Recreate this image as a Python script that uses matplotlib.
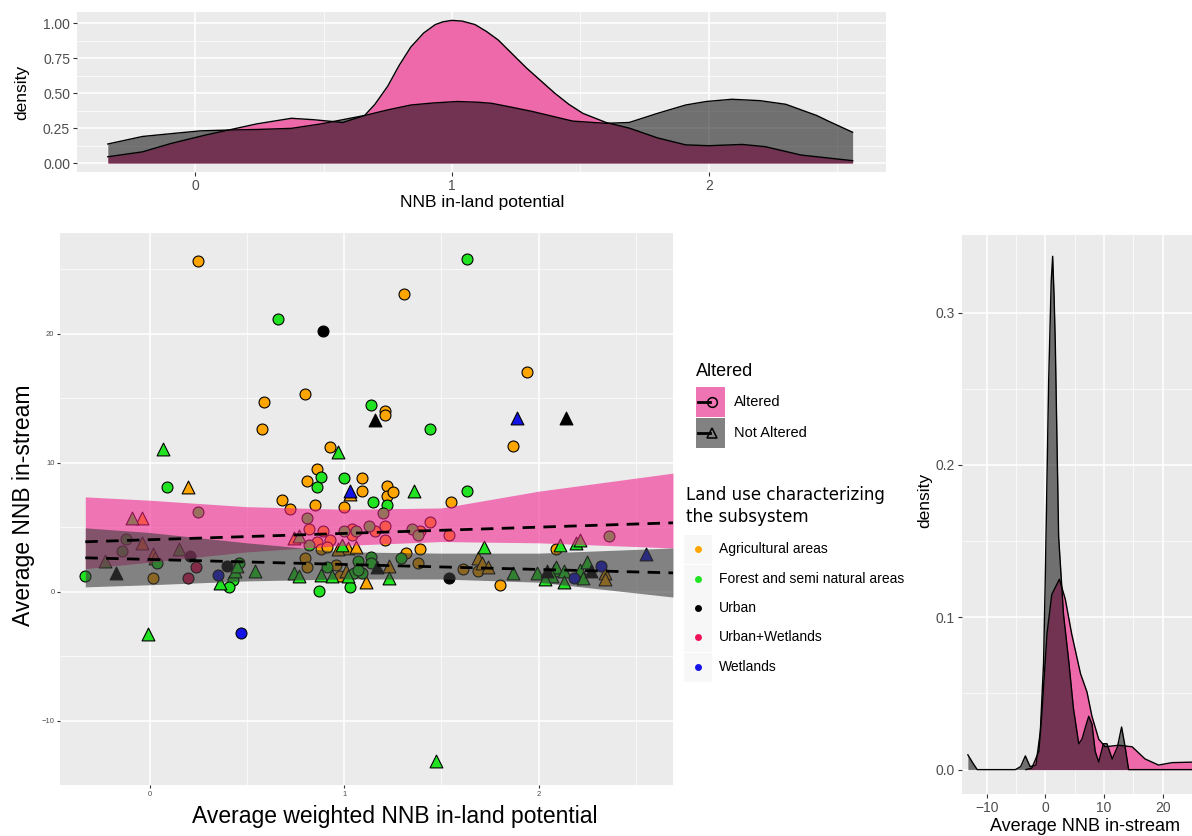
import numpy as np
import matplotlib
matplotlib.use('Agg')
import matplotlib.pyplot as plt
from matplotlib.patches import Rectangle

plt.rcParams['font.family'] = ['Liberation Sans', 'DejaVu Sans']

# ---------------- data ----------------
# land use codes: A agricultural, F forest, U urban, UW urban+wetlands, W wetlands
# shape: c = Altered (circle), t = Not Altered (triangle)
pt_x = [0.25, 0.66, 0.89, 0.80, 0.59, 0.58, 0.07, 0.93, 0.97, 0.86,
        0.88, 0.81, 0.86, 0.09, 0.20, 0.68, 0.85, 0.72, 0.25, -0.09,
        -0.04, 0.81, 1.63, 1.31, 1.94, 1.14, 1.21, 1.21, 1.16, 1.89,
        2.14, 1.44, 1.87, 1.00, 1.09, 1.03, 1.03, 1.09, 1.22, 1.22,
        1.25, 1.36, 1.63, 1.15, 1.22, 1.00, 1.55, 1.20, 1.44, 1.21,
        1.13, 1.16, 1.00, 1.04, 1.04, 1.06, 1.35, 1.38, 1.39, 1.54,
        2.36, 2.11, 2.09, 2.19, 2.21, 1.72, 1.21, 1.39, 0.99, 1.02,
        1.06, 0.97, 1.32, 1.29, 1.14, 1.14, 1.07, 0.96, 1.23, 1.38,
        1.69, 1.71, 1.74, 1.61, 1.69, 1.54, 1.80, 1.87, 1.17, 1.23,
        1.11, 1.03, 1.05, 1.09, 0.98, 1.02, 2.55, 1.99, 2.04, 2.08,
        2.09, 2.07, 2.03, 2.13, 2.13, 2.18, 2.21, 2.23, 2.25, 2.27,
        2.32, 2.34, 2.34, -0.12, -0.04, -0.14, 0.15, -0.23, 0.02, 0.03,
        0.21, 0.24, 0.20, 0.04, 0.02, -0.17, -0.33, 0.35, 0.36, 0.40,
        0.44, 0.45, 0.46, 0.43, 0.41, 0.54, -0.01, 0.47, 1.47, 0.82,
        0.89, 0.74, 0.77, 0.93, 0.82, 0.86, 0.88, 0.91, 0.80, 0.81,
        0.91, 0.74, 0.77, 0.88, 0.94, 1.01, 0.87, 1.07]
pt_y = [25.6, 21.1, 20.2, 15.3, 14.7, 12.6, 11.1, 11.2, 10.8, 9.5,
        8.9, 8.6, 8.1, 8.1, 8.1, 7.1, 6.7, 6.4, 6.2, 5.7,
        5.7, 5.7, 25.8, 23.1, 17.0, 14.5, 14.0, 13.7, 13.3, 13.5,
        13.5, 12.6, 11.3, 8.8, 8.8, 7.8, 7.6, 7.8, 8.2, 7.4,
        7.7, 7.8, 7.8, 7.0, 6.7, 6.6, 7.0, 6.1, 5.4, 5.1,
        5.1, 4.7, 4.7, 4.9, 4.4, 4.7, 4.9, 4.4, 4.7, 4.4,
        4.3, 3.6, 3.3, 3.8, 4.0, 3.5, 4.0, 3.3, 3.6, 3.4,
        3.5, 3.3, 3.0, 2.6, 2.7, 2.2, 2.4, 2.1, 2.0, 2.2,
        2.6, 2.2, 1.9, 1.8, 1.6, 1.1, 0.5, 1.5, 1.9, 1.1,
        0.8, 0.4, 1.5, 1.5, 1.2, 1.2, 2.9, 1.5, 1.6, 1.7,
        1.9, 1.2, 1.0, 1.6, 0.8, 1.1, 1.7, 1.1, 2.3, 1.6,
        2.0, 1.5, 1.0, 4.1, 3.8, 3.2, 3.3, 2.4, 2.9, 2.6,
        2.8, 1.9, 1.1, 2.2, 1.1, 1.5, 1.2, 1.3, 0.7, 2.0,
        1.6, 2.0, 2.2, 0.9, 0.4, 1.6, -3.3, -3.2, -13.1, 4.9,
        4.7, 4.2, 4.3, 4.0, 3.6, 3.9, 3.3, 3.5, 2.6, 1.9,
        1.9, 1.5, 1.2, 1.3, 1.2, 1.6, 0.1, 1.7]
pt_use = ['A', 'F', 'U', 'A', 'A', 'A', 'F', 'A', 'F', 'A',
          'F', 'A', 'F', 'F', 'A', 'A', 'A', 'A', 'F', 'F',
          'A', 'F', 'F', 'A', 'A', 'F', 'A', 'A', 'U', 'W',
          'U', 'F', 'A', 'F', 'A', 'W', 'A', 'A', 'A', 'A',
          'A', 'F', 'F', 'F', 'F', 'A', 'A', 'F', 'A', 'A',
          'F', 'A', 'F', 'A', 'A', 'F', 'F', 'F', 'A', 'A',
          'F', 'F', 'A', 'F', 'F', 'F', 'A', 'A', 'F', 'A',
          'A', 'A', 'A', 'F', 'F', 'F', 'F', 'A', 'A', 'A',
          'A', 'A', 'A', 'A', 'A', 'U', 'A', 'F', 'U', 'F',
          'A', 'F', 'F', 'F', 'A', 'F', 'W', 'F', 'U', 'F',
          'F', 'F', 'F', 'F', 'F', 'W', 'F', 'F', 'F', 'U',
          'W', 'A', 'A', 'F', 'A', 'F', 'F', 'F', 'A', 'A',
          'U', 'UW', 'UW', 'F', 'A', 'U', 'F', 'W', 'F', 'U',
          'F', 'F', 'F', 'F', 'F', 'F', 'F', 'W', 'F', 'A',
          'A', 'A', 'F', 'A', 'F', 'A', 'A', 'A', 'A', 'A',
          'F', 'F', 'F', 'F', 'F', 'A', 'F', 'F']
pt_shape = ['c', 'c', 'c', 'c', 'c', 'c', 't', 'c', 't', 'c',
            'c', 'c', 'c', 'c', 't', 'c', 'c', 'c', 'c', 't',
            't', 'c', 'c', 'c', 'c', 'c', 'c', 'c', 't', 't',
            't', 'c', 'c', 'c', 'c', 't', 't', 'c', 'c', 'c',
            'c', 't', 'c', 'c', 'c', 'c', 'c', 'c', 'c', 'c',
            'c', 'c', 'c', 'c', 'c', 'c', 'c', 'c', 'c', 'c',
            'c', 't', 'c', 't', 't', 't', 'c', 'c', 't', 't',
            't', 't', 'c', 'c', 'c', 'c', 'c', 'c', 't', 'c',
            't', 't', 't', 'c', 'c', 'c', 'c', 't', 't', 't',
            't', 'c', 'c', 'c', 'c', 't', 't', 't', 't', 't',
            't', 't', 't', 't', 't', 'c', 't', 't', 't', 't',
            'c', 't', 't', 'c', 't', 'c', 't', 't', 't', 't',
            'c', 'c', 'c', 'c', 'c', 't', 'c', 'c', 't', 'c',
            't', 't', 'c', 'c', 'c', 't', 't', 'c', 't', 'c',
            'c', 't', 't', 'c', 'c', 'c', 'c', 'c', 'c', 'c',
            'c', 't', 't', 't', 't', 't', 'c', 'c']

land_codes = ['A', 'F', 'U', 'UW', 'W']
land_names = ['Agricultural areas', 'Forest and semi natural areas', 'Urban',
              'Urban+Wetlands', 'Wetlands']
land_colors = ['#FFA500', '#22E322', '#000000', '#F0145A', '#1414E6']

# linear-model ribbons (read at a few x positions) and fitted dashed lines
band_x = [-0.33, 0.0, 0.5, 1.0, 1.5, 2.0, 2.69]
alt_hi = [7.36, 7.1, 6.6, 6.4, 6.5, 7.8, 9.2]
alt_lo = [1.8, 2.3, 3.1, 3.6, 3.9, 3.8, 3.4]
not_hi = [4.96, 4.6, 3.8, 3.1, 3.0, 3.0, 3.4]
not_lo = [0.39, 0.55, 0.85, 1.0, 1.0, 0.75, -0.4]
fit_x = [-0.33, 2.69]
alt_fit = [3.88, 5.35]
not_fit = [2.64, 1.47]

# top density (NNB in-land potential)
top_alt_x = [-0.34, -0.205, -0.094, 0.04, 0.13, 0.24, 0.375, 0.46, 0.575, 0.66,
             0.70, 0.75, 0.795, 0.84, 0.89, 0.935, 0.965, 1.0, 1.04, 1.09,
             1.135, 1.18, 1.235, 1.29, 1.345, 1.40, 1.455, 1.51, 1.60, 1.69,
             1.80, 1.91, 2.0, 2.13, 2.22, 2.36, 2.56]
top_alt_y = [0.045, 0.08, 0.14, 0.20, 0.236, 0.28, 0.32, 0.31, 0.29, 0.34,
             0.42, 0.55, 0.70, 0.83, 0.93, 0.99, 1.01, 1.02, 1.015, 0.99,
             0.94, 0.88, 0.78, 0.68, 0.59, 0.50, 0.42, 0.355, 0.29, 0.25,
             0.18, 0.13, 0.124, 0.133, 0.117, 0.057, 0.017]
top_not_x = [-0.34, -0.205, -0.094, 0.02, 0.13, 0.24, 0.375, 0.49, 0.66, 0.75,
             0.84, 0.93, 1.02, 1.1, 1.155, 1.23, 1.31, 1.39, 1.47, 1.60,
             1.69, 1.80, 1.91, 1.99, 2.09, 2.2, 2.3, 2.36, 2.42, 2.47,
             2.56]
top_not_y = [0.136, 0.19, 0.21, 0.23, 0.236, 0.24, 0.248, 0.28, 0.34, 0.38,
             0.415, 0.43, 0.44, 0.435, 0.427, 0.40, 0.37, 0.335, 0.30, 0.284,
             0.29, 0.355, 0.415, 0.44, 0.456, 0.446, 0.42, 0.38, 0.34, 0.296,
             0.22]

# right density (NNB in-stream)
r_not_x = [-13.2, -12.3, -11.6, -5.1, -4.2, -3.4, -2.6, -1.6, -0.85, -0.3,
           0.0, 0.57, 1.0, 1.25, 1.5, 1.7, 2.27, 3.1, 4.0, 4.8,
           5.7, 6.25, 7.0, 7.4, 7.95, 8.5, 9.1, 9.9, 10.5, 11.4,
           12.3, 13.0, 13.6, 14.2, 16.0, 25.9]
r_not_y = [0.0097, 0.004, 0.0, 0.0, 0.002, 0.009, 0.002, 0.003, 0.025, 0.07,
           0.127, 0.255, 0.32, 0.337, 0.31, 0.28, 0.153, 0.102, 0.071, 0.04,
           0.017, 0.02, 0.03, 0.035, 0.03, 0.012, 0.005, 0.017, 0.017, 0.007,
           0.015, 0.028, 0.015, 0.0, 0.0, 0.0]
r_alt_x = [-3.3, -2.3, -1.1, -0.57, 0.28, 1.1, 2.4, 3.4, 4.5, 6.0,
           7.1, 7.95, 9.1, 10.2, 12.5, 14.8, 17.0, 19.3, 21.6, 25.9]
r_alt_y = [0.0, 0.001, 0.012, 0.038, 0.089, 0.115, 0.125, 0.112, 0.089, 0.063,
           0.051, 0.035, 0.02, 0.015, 0.016, 0.015, 0.007, 0.003, 0.0046, 0.005]

# ---------------- styling helpers ----------------
BG = '#EBEBEB'
PINK_DENS = '#EE69AA'
PINK_BAND = '#F21E8C'
GREY_BAND = '#3C3C3C'
W, H = 1192, 836


def panel(px0, py0, px1, py1):
    return fig.add_axes([px0 / W, 1 - py1 / H, (px1 - px0) / W, (py1 - py0) / H])


def gg_style(ax, lab_size):
    ax.set_facecolor(BG)
    for s in ax.spines.values():
        s.set_visible(False)
    ax.grid(True, which='major', color='white', lw=1.1, zorder=0)
    ax.grid(True, which='minor', color='white', lw=0.5, zorder=0)
    ax.set_axisbelow(True)
    ax.tick_params(which='major', length=3, color='#333333', width=0.8,
                   labelsize=lab_size, labelcolor='#4D4D4D', pad=2)
    ax.tick_params(which='minor', length=0)


fig = plt.figure(figsize=(W / 100, H / 100), dpi=100)
fig.patch.set_facecolor('white')

# ---------------- top density ----------------
ax_top = panel(77, 12, 886, 172)
gg_style(ax_top, 10)
ax_top.fill_between(top_alt_x, 0, top_alt_y, color=PINK_DENS, lw=0, zorder=2)
ax_top.plot(top_alt_x, top_alt_y, color='black', lw=1, zorder=4)
ax_top.fill_between(top_not_x, 0, top_not_y, color='black', alpha=0.52, lw=0, zorder=3)
ax_top.plot(top_not_x, top_not_y, color='black', lw=1, zorder=4)
ax_top.set_xlim(-0.46, 2.69)
ax_top.set_ylim(-0.064, 1.08)
ax_top.set_xticks([0, 1, 2])
ax_top.set_xticks([0.5, 1.5, 2.5], minor=True)
ax_top.set_yticks([0, 0.25, 0.5, 0.75, 1.0])
ax_top.set_yticks([0.125, 0.375, 0.625, 0.875], minor=True)
ax_top.set_yticklabels(['0.00', '0.25', '0.50', '0.75', '1.00'])
fig.text(482 / W, 1 - 203 / H, 'NNB in-land potential', fontsize=12.5,
         ha='center', va='center', color='black')
fig.text(22 / W, 1 - 92 / H, 'density', fontsize=12.5, rotation=90,
         ha='center', va='center')

# ---------------- main scatter ----------------
ax = panel(60, 233, 673, 785)
gg_style(ax, 5.5)
ax.tick_params(which='major', length=2)
for code, col in zip(land_codes, land_colors):
    for shp, mk, sz in [('c', 'o', 62), ('t', '^', 85)]:
        idx = [i for i in range(len(pt_x)) if pt_use[i] == code and pt_shape[i] == shp]
        if not idx:
            continue
        ax.scatter([pt_x[i] for i in idx], [pt_y[i] for i in idx], s=sz, marker=mk,
                   facecolor=col, edgecolor='black', linewidth=0.8, zorder=2)
ax.fill_between(band_x, alt_lo, alt_hi, color=PINK_BAND, alpha=0.58, lw=0, zorder=3)
ax.fill_between(band_x, not_lo, not_hi, color=GREY_BAND, alpha=0.6, lw=0, zorder=4)
ax.plot(fit_x, alt_fit, color='black', lw=2, ls=(0, (4.5, 3)), zorder=5)
ax.plot(fit_x, not_fit, color='black', lw=2, ls=(0, (4.5, 3)), zorder=5)
ax.set_xlim(-0.46, 2.69)
ax.set_ylim(-14.96, 27.8)
ax.set_xticks([0, 1, 2])
ax.set_xticks([0.5, 1.5, 2.5], minor=True)
ax.set_yticks([-10, 0, 10, 20])
ax.set_yticks([-5, 5, 15, 25], minor=True)
fig.text(395 / W, 1 - 817 / H, 'Average weighted NNB in-land potential',
         fontsize=16.5, ha='center', va='center')
fig.text(24 / W, 1 - 505 / H, 'Average NNB in-stream', fontsize=16.5,
         rotation=90, ha='center', va='center')

# ---------------- right density ----------------
ax_r = panel(962, 235, 1192, 794)
gg_style(ax_r, 10)
ax_r.fill_between(r_alt_x, 0, r_alt_y, color=PINK_DENS, lw=0, zorder=2)
ax_r.plot(r_alt_x, r_alt_y, color='black', lw=1, zorder=4)
ax_r.fill_between(r_not_x, 0, r_not_y, color='black', alpha=0.52, lw=0, zorder=3)
ax_r.plot(r_not_x, r_not_y, color='black', lw=1, zorder=4)
ax_r.set_xlim(-14.2, 24.7)
ax_r.set_ylim(-0.016, 0.351)
ax_r.set_xticks([-10, 0, 10, 20])
ax_r.set_xticks([-5, 5, 15, 25], minor=True)
ax_r.set_yticks([0, 0.1, 0.2, 0.3])
ax_r.set_yticks([0.05, 0.15, 0.25], minor=True)
ax_r.set_yticklabels(['0.0', '0.1', '0.2', '0.3'])
fig.text(1085 / W, 1 - 835 / H, 'Average NNB in-stream', fontsize=13,
         ha='center', va='bottom')
fig.text(925 / W, 1 - 500 / H, 'density', fontsize=12.5, rotation=90,
         ha='center', va='center')

# ---------------- legends (drawn in pixel space) ----------------
lg = fig.add_axes([0, 0, 1, 1])
lg.set_xlim(0, W)
lg.set_ylim(H, 0)
lg.axis('off')
lg.patch.set_alpha(0)

lg.text(696, 371, 'Altered', fontsize=13, va='center', ha='left')
for yk, col, al, mk, lab in [(387, PINK_BAND, 0.58, 'o', 'Altered'),
                             (418, GREY_BAND, 0.6, '^', 'Not Altered')]:
    lg.add_patch(Rectangle((696, yk), 29, 30, color=BG, lw=0))
    lg.add_patch(Rectangle((696, yk), 29, 30, color=col, alpha=al, lw=0))
    yc = yk + 15
    lg.plot([698, 710], [yc, yc], color='black', lw=2)
    lg.plot([712], [yc], marker=mk, ms=7, mfc='none', mec='black', mew=1.1)
    lg.text(734, yc, lab, fontsize=10.5, va='center', ha='left')

lg.text(686, 495, 'Land use characterizing', fontsize=12, va='center', ha='left',
        family='DejaVu Sans')
lg.text(686, 517, 'the subsystem', fontsize=12, va='center', ha='left',
        family='DejaVu Sans')
key_y = [549, 579, 608, 637, 667]
for yk, col, lab in zip(key_y, land_colors, land_names):
    lg.add_patch(Rectangle((684, yk - 14), 28, 29, color='#F7F7F7', lw=0))
    lg.plot([698], [yk], marker='o', ms=5, color=col, mec='none')
    lg.text(719, yk, lab, fontsize=10, va='center', ha='left')

fig.savefig('out.png', dpi=100)
